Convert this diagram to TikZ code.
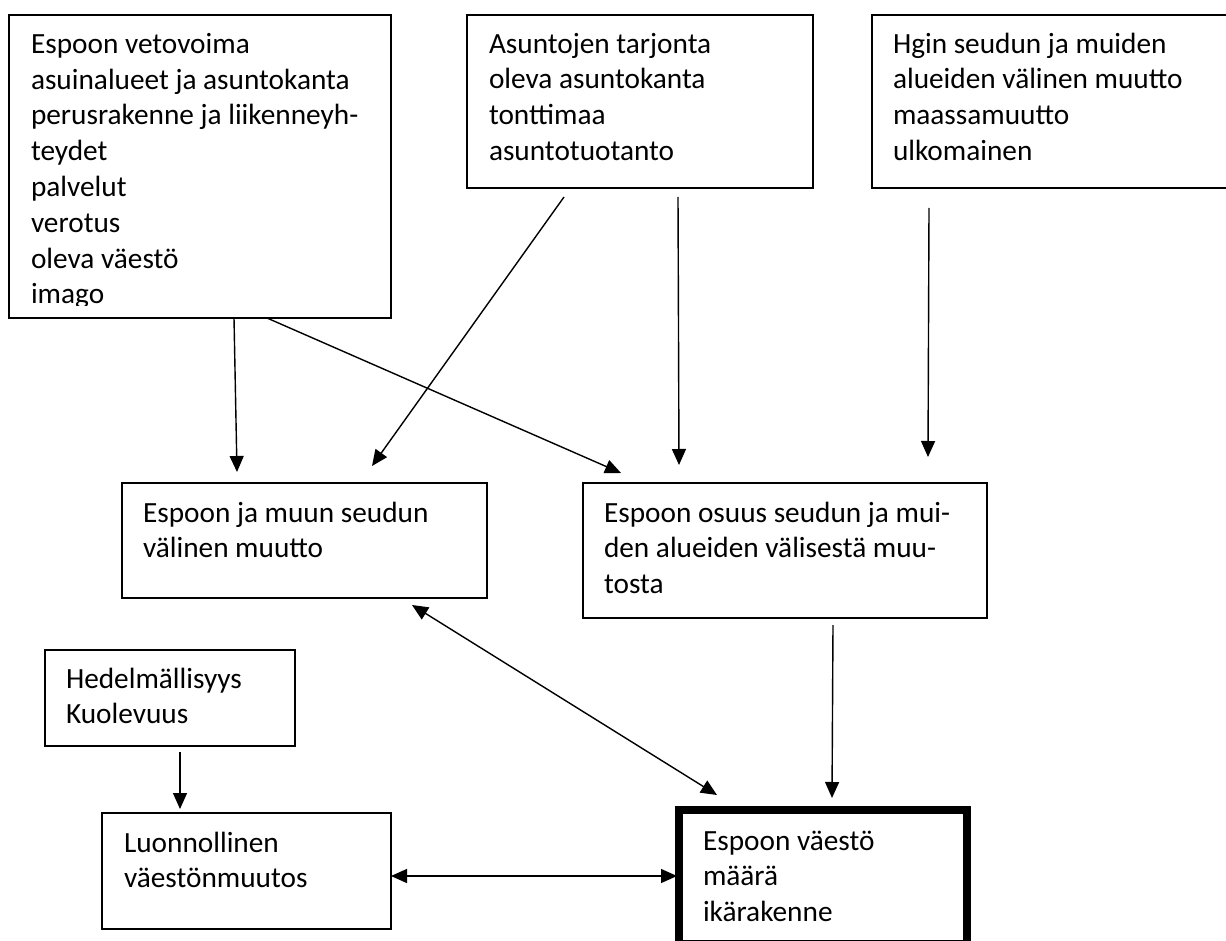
\documentclass[tikz,border=0pt]{standalone}
\usepackage{fontspec}
\setmainfont{Carlito}
\usetikzlibrary{arrows.meta,calc}
\begin{document}
\begin{tikzpicture}[x=1pt,y=-1pt,
  box/.style={draw=black, line width=1.6pt, rectangle, inner sep=0pt, outer sep=0pt, anchor=north west},
  thickbox/.style={draw=black, line width=8pt, rectangle, inner sep=0pt, outer sep=0pt, anchor=north west},
  txt/.style={anchor=north west, inner sep=0pt, outer sep=0pt, align=left, font=\fontsize{29.3}{35.8}\selectfont},
  arr/.style={line width=1.4pt, -{Triangle[length=16pt,width=14pt]}},
  darr/.style={line width=1.4pt, {Triangle[length=16pt,width=14pt]}-{Triangle[length=16pt,width=14pt]}}]
\clip (0,0) rectangle (1226,941);
\fill[white] (0,0) rectangle (1226,941);

% boxes
\node[box, minimum width=382pt, minimum height=303pt] (b1) at (9,15) {};
\node[box, minimum width=346pt, minimum height=173pt] (b2) at (467,15) {};
\node[box, minimum width=370pt, minimum height=173pt] (b3) at (872,15) {};
\node[box, minimum width=365pt, minimum height=115pt] (ml) at (122,483) {};
\node[box, minimum width=404pt, minimum height=135pt] (mr) at (583,483) {};
\node[box, minimum width=250pt, minimum height=96pt] (hed) at (45,650) {};
\node[box, minimum width=289pt, minimum height=116pt] (luon) at (102,813) {};
\node[thickbox, minimum width=288pt, minimum height=134pt] (vaesto) at (679,810) {};

% texts
\begin{scope}
\clip (0,0) rectangle (1226,306);
\node[txt] (t1) at (31,28.3) {\strut Espoon vetovoima\\asuinalueet ja asuntokanta\\perusrakenne ja liikenneyh-\\teydet\\palvelut\\verotus\\oleva väestö\\imago};
\end{scope}
\node[txt] (t2) at (489,28) {\strut Asuntojen tarjonta\\oleva asuntokanta\\tonttimaa\\asuntotuotanto};
\node[txt] (t3) at (893,28) {\strut Hgin seudun ja muiden\\alueiden välinen muutto\\maassamuutto\\ulkomainen};
\node[txt] (t4) at (143,497) {\strut Espoon ja muun seudun\\välinen muutto};
\node[txt] (t5) at (604,497) {\strut Espoon osuus seudun ja mui-\\den alueiden välisestä muu-\\tosta};
\node[txt] (t6) at (66,663) {\strut Hedelmällisyys\\Kuolevuus};
\node[txt] (t7) at (124,827) {\strut Luonnollinen\\väestönmuutos};
\node[txt] (t8) at (703,825) {\strut Espoon väestö\\määrä\\ikärakenne};

% connectors
\draw[arr] ([xshift=225pt]b1.south west) -- ([xshift=115pt,yshift=11pt]ml.north west);
\draw[arr] ([xshift=258pt]b1.south west) -- ([xshift=38pt,yshift=10pt]mr.north west);
\draw[arr] ([xshift=97pt,yshift=-9pt]b2.south west) -- ([xshift=250pt,yshift=17pt]ml.north west);
\draw[arr] ([xshift=211pt,yshift=-9pt]b2.south west) -- ([xshift=96pt,yshift=18pt]mr.north west);
\draw[arr] ([xshift=57pt,yshift=-20pt]b3.south west) -- ([xshift=345pt,yshift=26pt]mr.north west);
\draw[darr] ([xshift=-75pt,yshift=-7pt]ml.south east) -- ([xshift=38pt,yshift=15pt]vaesto.north west);
\draw[arr] ([xshift=250pt,yshift=-7pt]mr.south west) -- ([xshift=153pt,yshift=12pt]vaesto.north west);
\draw[arr] ([xshift=135pt,yshift=-6pt]hed.south west) -- ([xshift=78pt,yshift=4pt]luon.north west);
\draw[darr] ([yshift=-5pt]luon.east) -- ([xshift=-2pt,yshift=1pt]vaesto.west);
\end{tikzpicture}
\end{document}
